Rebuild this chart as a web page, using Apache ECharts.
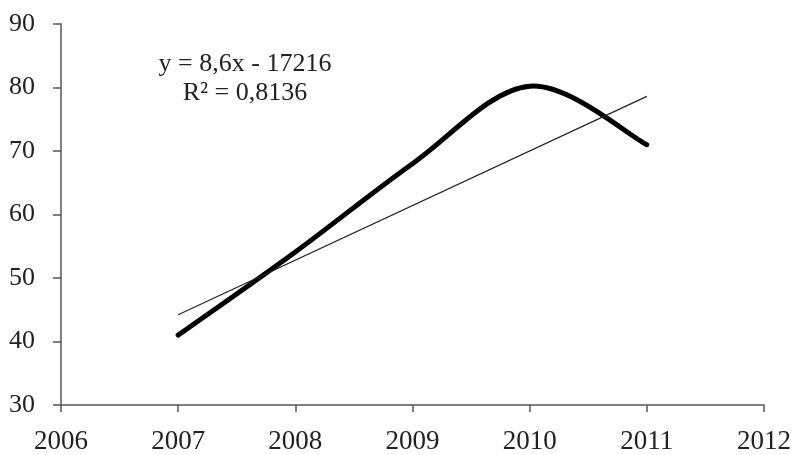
<!DOCTYPE html>
<html>
<head>
<meta charset="utf-8">
<script src="https://cdn.jsdelivr.net/npm/echarts@6/dist/echarts.min.js"></script>
<style>html,body{margin:0;padding:0;background:#fff}#c{width:794px;height:455px}</style>
</head>
<body>
<div id="c"></div>
<script>
var years = [2007, 2008, 2009, 2010, 2011];
var values = [41, 54.1, 68, 80.2, 71];
var trendYears = [2007, 2011];
var trendValues = [44.2, 78.6];
var xTicks = [2006, 2007, 2008, 2009, 2010, 2011, 2012];
var equationText = 'y = 8,6x - 17216';
var r2Text = 'R\u00B2 = 0,8136';

var chart = echarts.init(document.getElementById('c'));
var font = '"Liberation Serif", "Times New Roman", serif';

function renderSmooth(params, api) {
  var pts = years.map(function (y, i) { return api.coord([y, values[i]]); });
  var n = pts.length;
  var d = 'M' + pts[0][0] + ' ' + pts[0][1];
  for (var i = 0; i < n - 1; i++) {
    var p0 = pts[Math.max(i - 1, 0)], p1 = pts[i], p2 = pts[i + 1], p3 = pts[Math.min(i + 2, n - 1)];
    var c1x = p1[0] + (p2[0] - p0[0]) / 6, c1y = p1[1] + (p2[1] - p0[1]) / 6;
    var c2x = p2[0] - (p3[0] - p1[0]) / 6, c2y = p2[1] - (p3[1] - p1[1]) / 6;
    d += ' C' + c1x + ' ' + c1y + ' ' + c2x + ' ' + c2y + ' ' + p2[0] + ' ' + p2[1];
  }
  return {
    type: 'path',
    shape: { pathData: d },
    style: { fill: 'none', stroke: '#000', lineWidth: 5, lineCap: 'round', lineJoin: 'round' }
  };
}

chart.setOption({
  animation: false,
  backgroundColor: '#ffffff',
  grid: { left: 61, right: 28, top: 24, bottom: 49, containLabel: false },
  xAxis: {
    type: 'value', min: xTicks[0], max: xTicks[xTicks.length - 1], interval: 1,
    splitLine: { show: false },
    axisLine: { show: true, lineStyle: { color: '#555', width: 1.5 } },
    axisTick: { show: true, length: 7, lineStyle: { color: '#555', width: 1.5 } },
    axisLabel: { color: '#222', fontFamily: font, fontSize: 27, margin: 23,
      formatter: function (v) { return String(v); } }
  },
  yAxis: {
    type: 'value', min: 30, max: 90, interval: 10,
    splitLine: { show: false },
    axisLine: { show: true, lineStyle: { color: '#555', width: 1.5 } },
    axisTick: { show: true, length: 8, lineStyle: { color: '#555', width: 1.5 } },
    axisLabel: { color: '#222', fontFamily: font, fontSize: 26, margin: 26 }
  },
  series: [
    {
      type: 'custom',
      renderItem: renderSmooth,
      data: [[years[0], values[0]]],
      silent: true
    },
    {
      type: 'line', symbol: 'none',
      data: trendYears.map(function (y, i) { return [y, trendValues[i]]; }),
      lineStyle: { color: '#222', width: 1.2 }
    }
  ],
  graphic: [
    { type: 'text', x: 245, y: 51, style: { text: equationText, fill: '#222', font: '26px ' + font, textAlign: 'center' } },
    { type: 'text', x: 245, y: 80, style: { text: r2Text, fill: '#222', font: '26px ' + font, textAlign: 'center' } }
  ]
});
</script>
</body>
</html>
